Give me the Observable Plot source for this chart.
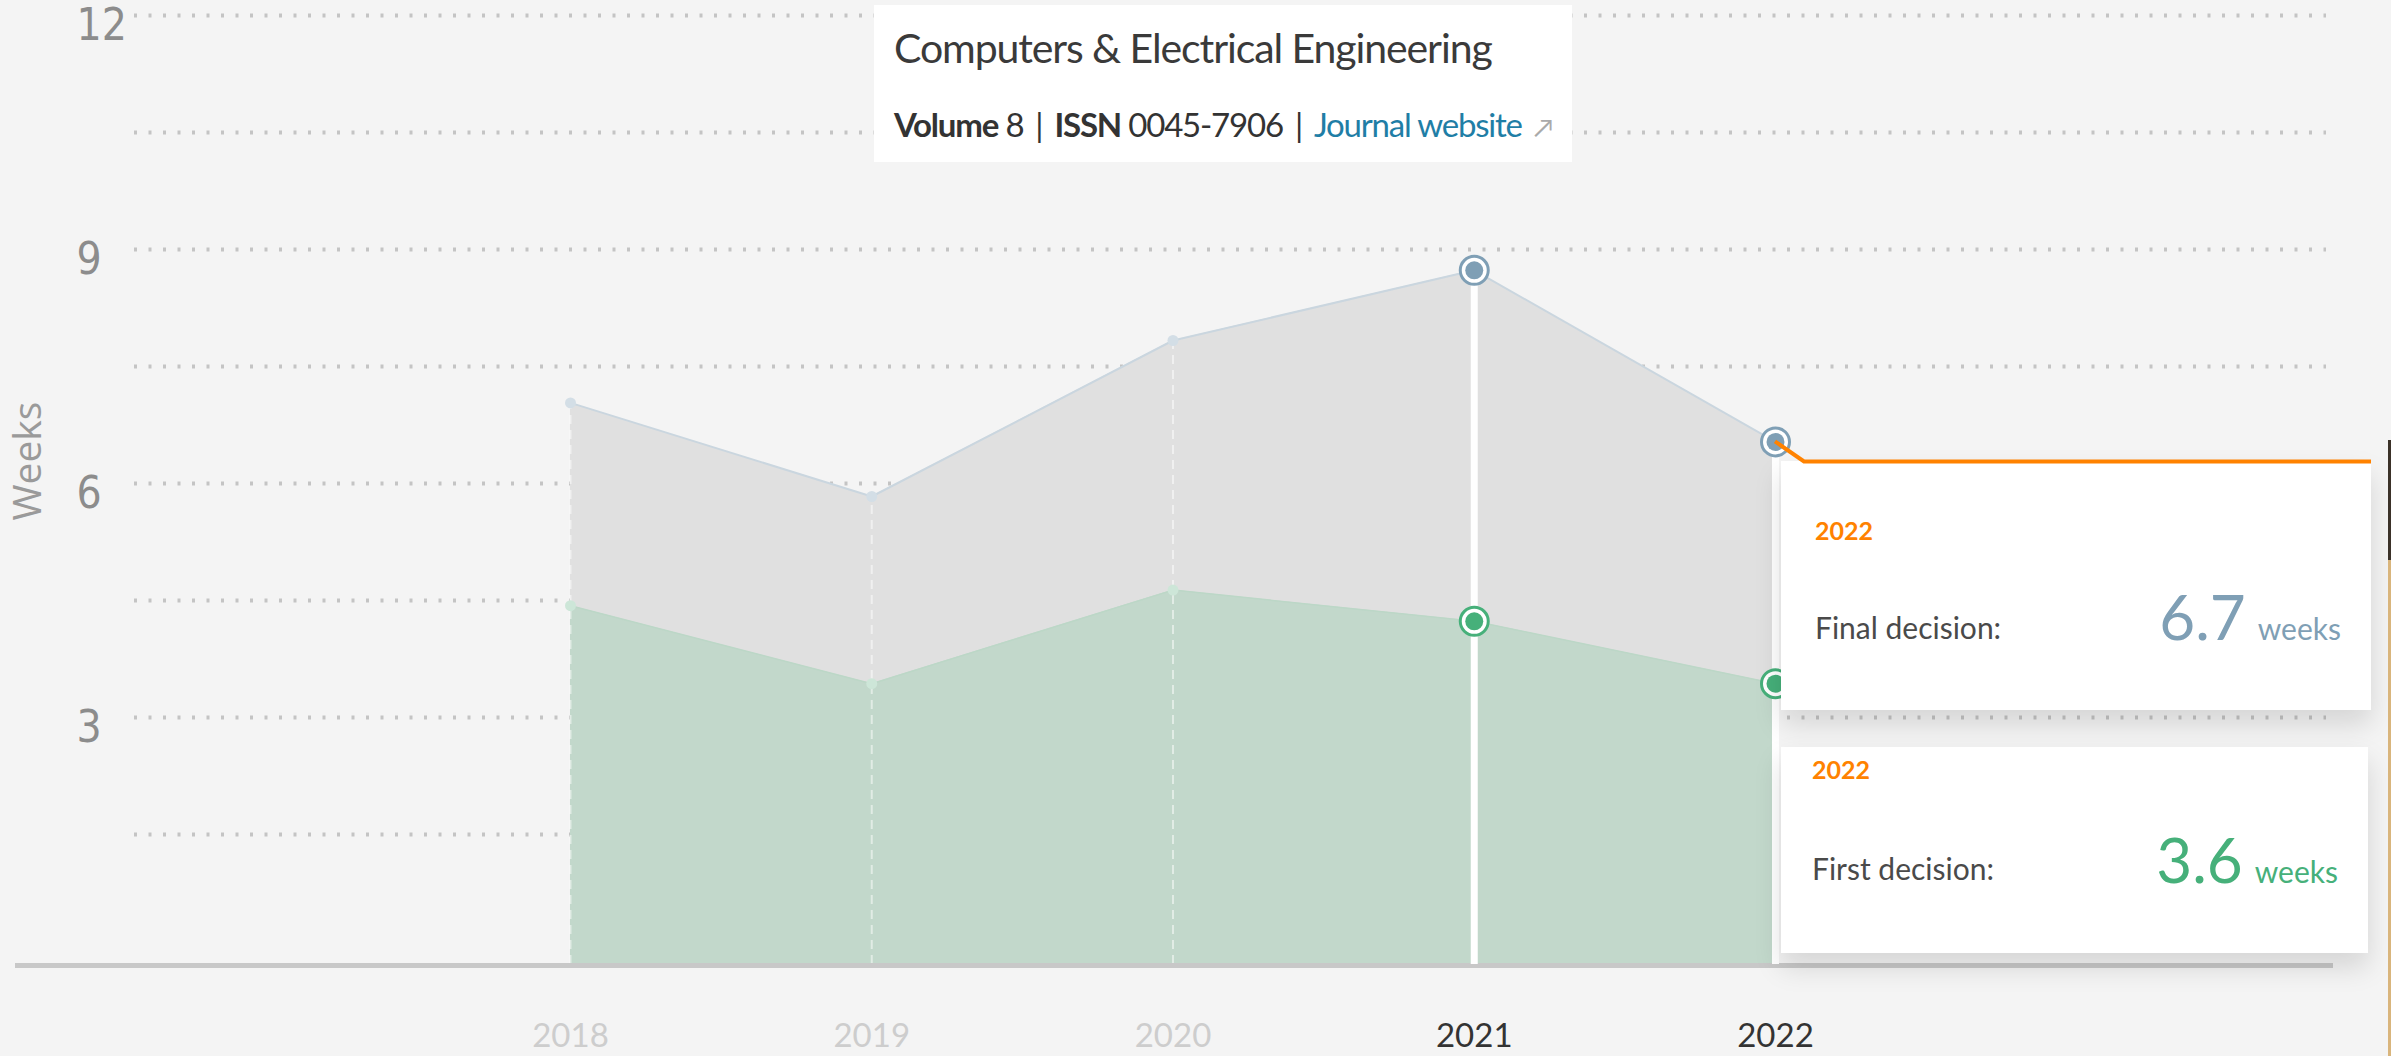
<!DOCTYPE html>
<html>
<head>
<meta charset="utf-8">
<script src="https://cdn.jsdelivr.net/npm/d3@7"></script>
<script src="https://cdn.jsdelivr.net/npm/@observablehq/plot@0.6"></script>
<style>
  html, body { margin: 0; padding: 0; background: #f4f4f4; }
  #wrap { position: relative; width: 2391px; height: 1056px; overflow: hidden; background: #f4f4f4; font-family: Lato, "Open Sans", sans-serif; }
  #wrap svg { position: absolute; left: 0; top: 0; }
  .titlebox { position: absolute; background: #fff; box-sizing: border-box; }
  .titlebox .t1 { position: absolute; left: 20px; top: 18px; font-size: 41px; color: #3a3a3a; white-space: nowrap; letter-spacing: -1.1px; }
  .titlebox .t2 { position: absolute; left: 20px; top: 99px; font-size: 33px; color: #333; white-space: nowrap; letter-spacing: -1.2px; }
  .titlebox .t2 b { font-weight: 700; }
  .titlebox .sep { margin: 0 12px; color: #333; }
  .titlebox .link { color: #1f7ea6; }
  .titlebox .arrow { color: #aaa; font-size: 26px; margin-left: 12px; }
  .tip { position: absolute; background: #fff; box-shadow: 0 14px 26px rgba(0,0,0,0.13); box-sizing: border-box; }
  .tip .yr { position: absolute; color: #ff8200; font-weight: 700; font-size: 25px; }
  .tip .lab { position: absolute; color: #4a4a4a; font-size: 30px; white-space: nowrap; }
  .tip .val { position: absolute; right: 30px; white-space: nowrap; }
  .tip .val .num { font-size: 62px; }
  .tip .val .unit { font-size: 30px; margin-left: 12px; }
  .edge { position: absolute; right: 0; width: 3px; }
</style>
</head>
<body>
<div id="wrap"></div>
<script>
// ---- data ----
const years = [2018, 2019, 2020, 2021, 2022];
const finalDecision = [7.2, 6.0, 8.0, 8.9, 6.7];
const firstDecision = [4.6, 3.6, 4.8, 4.4, 3.6];
const highlightedYears = [2021, 2022];
const yTickValues = [3, 6, 9, 12];
const gridValues = [1.5, 3, 4.5, 6, 7.5, 9, 10.5, 12];
const yAxisLabel = "Weeks";
const journalTitle = "Computers & Electrical Engineering";
const volumeText = "8";
const issnText = "0045-7906";
const linkText = "Journal website";
const unitText = "weeks";

const finalColor = "#7f9fb5";
const firstColor = "#46b07a";

const rows = years.map((year, i) => ({year, final: finalDecision[i], first: firstDecision[i]}));
const isHi = d => highlightedYears.includes(d.year);
const hiRows = rows.filter(isHi);
const loRows = rows.filter(d => !isHi(d));

const W = 2391, H = 1056;

const chart = Plot.plot({
  width: W,
  height: H,
  marginLeft: 134,
  marginRight: 65,
  marginTop: 12,
  marginBottom: 92,
  style: {background: "transparent", fontFamily: "Lato, sans-serif", overflow: "visible"},
  x: {type: "linear", domain: [2018, 2022], range: [570, 1775], axis: null},
  y: {domain: [0, 12], range: [964, 28], axis: null},
  marks: [
    Plot.ruleY(gridValues, {stroke: "#c4c4c4", strokeWidth: 4, strokeDasharray: "3,11.5", dy: -13}),
    Plot.areaY(rows, {x: "year", y: "final", fill: "#e0e0e0"}),
    Plot.areaY(rows, {x: "year", y: "first", fill: "#c2d8cb"}),
    Plot.lineY(rows, {x: "year", y: "final", stroke: "#cad6df", strokeWidth: 2}),
    Plot.lineY(rows, {x: "year", y: "first", stroke: "#bcd7c7", strokeWidth: 1.5}),
    Plot.ruleX(loRows, {x: "year", y1: 0, y2: "final", stroke: "#ffffff", strokeOpacity: 0.5, strokeWidth: 2, strokeDasharray: "9,6"}),
    Plot.ruleY([0], {stroke: "#c8c8c8", strokeWidth: 5, insetLeft: -119, insetRight: -7, dy: 1}),
    Plot.ruleX(hiRows, {x: "year", y1: 0, y2: "final", stroke: "#ffffff", strokeWidth: 7}),
    Plot.dot(loRows, {x: "year", y: "final", r: 5.5, fill: "#d3dee6"}),
    Plot.dot(loRows, {x: "year", y: "first", r: 5.5, fill: "#cde6d8"}),
    Plot.dot(hiRows, {x: "year", y: "final", r: 14, fill: "#ffffff", stroke: finalColor, strokeWidth: 3}),
    Plot.dot(hiRows, {x: "year", y: "final", r: 9, fill: finalColor}),
    Plot.dot(hiRows, {x: "year", y: "first", r: 14, fill: "#ffffff", stroke: firstColor, strokeWidth: 3}),
    Plot.dot(hiRows, {x: "year", y: "first", r: 9, fill: firstColor}),
    Plot.text(yTickValues, {y: d => d, frameAnchor: "left", textAnchor: "start", dx: -58, dy: -3, fontSize: 44, fill: "#8c8c8c",
      fontFamily: "'Liberation Sans Narrow', 'DejaVu Sans Condensed', sans-serif", text: d => String(d), ariaLabel: "ytick"}),
    Plot.text([yAxisLabel], {frameAnchor: "left", rotate: -90, dx: -106, dy: 32, fontSize: 39, fill: "#9a9a9a", fontFamily: "'Open Sans', sans-serif"}),
    Plot.text(years, {x: d => d, frameAnchor: "bottom", dy: 82, fontSize: 33, fontFamily: "Lato, sans-serif",
      fill: d => highlightedYears.includes(d) ? "#333333" : "#cdcdcd", fontWeight: d => highlightedYears.includes(d) ? 600 : 400, text: d => String(d)})
  ]
});

// narrow the y tick labels like the condensed face of the original
chart.querySelectorAll("g[aria-label='ytick'] text").forEach(t => {
  const tr = t.getAttribute("transform") || "";
  t.setAttribute("transform", tr + " scale(0.78,1.05)");
});

const wrap = document.getElementById("wrap");
wrap.appendChild(chart);

const xs = chart.scale("x"), ys = chart.scale("y");
const lastYear = years[years.length - 1];
const lastFinal = finalDecision[finalDecision.length - 1];
const lastFirst = firstDecision[firstDecision.length - 1];
const px = xs.apply(lastYear);
const pyF = ys.apply(lastFinal);
const py0 = ys.apply(0);

// title box
const tb = document.createElement("div");
tb.className = "titlebox";
Object.assign(tb.style, {left: "874px", top: "5px", width: "698px", height: "157px"});
tb.innerHTML = `<div class="t1">${journalTitle.replace("&", "&amp;")}</div>
<div class="t2"><b>Volume</b> ${volumeText}<span class="sep">|</span><b>ISSN</b> ${issnText}<span class="sep">|</span><span class="link">${linkText}</span><span class="arrow">&#8599;</span></div>`;
wrap.appendChild(tb);

// tooltip 1 (final decision)
const tip1Top = pyF + 20;
const t1 = document.createElement("div");
t1.className = "tip";
Object.assign(t1.style, {left: (px + 6) + "px", top: tip1Top + "px", width: (2371 - px - 6) + "px", height: "249px"});
t1.innerHTML = `<div class="yr" style="left:34px;top:54px">${lastYear}</div>
<div class="lab" style="left:34px;top:148px">Final decision:</div>
<div class="val" style="top:118px;color:${finalColor}"><span class="num">${lastFinal.toFixed(1)}</span><span class="unit">${unitText}</span></div>`;
wrap.appendChild(t1);

// tooltip 2 (first decision)
const t2 = document.createElement("div");
t2.className = "tip";
Object.assign(t2.style, {left: (px + 6) + "px", top: (py0 - 217) + "px", width: (2368 - px - 6) + "px", height: "206px"});
t2.innerHTML = `<div class="yr" style="left:31px;top:7px">${lastYear}</div>
<div class="lab" style="left:31px;top:103px">First decision:</div>
<div class="val" style="top:75px;color:${firstColor}"><span class="num">${lastFirst.toFixed(1)}</span><span class="unit">${unitText}</span></div>`;
wrap.appendChild(t2);

// orange connector
const ns = "http://www.w3.org/2000/svg";
const ov = document.createElementNS(ns, "svg");
ov.setAttribute("width", W); ov.setAttribute("height", H);
ov.style.pointerEvents = "none";
const pl = document.createElementNS(ns, "polyline");
pl.setAttribute("points", `${px},${pyF} ${px + 29},${tip1Top} ${2371},${tip1Top}`);
pl.setAttribute("fill", "none");
pl.setAttribute("stroke", "#ff8200");
pl.setAttribute("stroke-width", "4");
ov.appendChild(pl);
wrap.appendChild(ov);

// thin window edge visible at the right of the screenshot
const e1 = document.createElement("div"); e1.className = "edge";
Object.assign(e1.style, {top: "440px", height: "120px", background: "#3b3229"});
const e2 = document.createElement("div"); e2.className = "edge";
Object.assign(e2.style, {top: "560px", height: "496px", background: "#d9b57c"});
wrap.appendChild(e1); wrap.appendChild(e2);
</script>
</body>
</html>
